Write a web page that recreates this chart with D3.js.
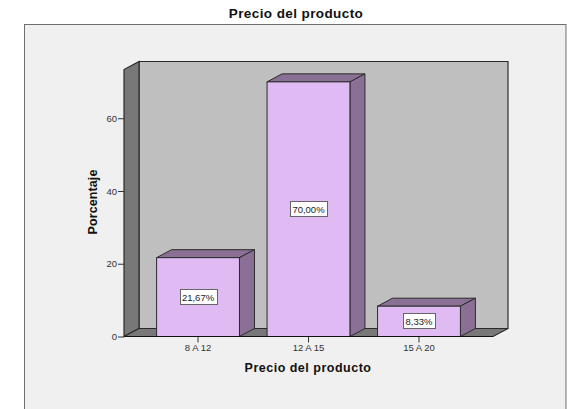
<!DOCTYPE html>
<html lang="en">
<head>
	<meta charset="utf-8"/>
	<title>Precio del producto</title>
	<script src="https://d3js.org/d3.v7.min.js" charset="utf-8"></script>
	<style>
		html, body { margin: 0; padding: 0; background: #fff; overflow: hidden; }
		svg { display: block; font-family: "Liberation Sans", Arial, sans-serif; }
		.axis .domain { display: none; }
		.axis text { font-size: 9.5px; fill: #333; }
		.axis line { stroke: #333; }
		.name { font-weight: bold; fill: #111; text-anchor: middle; }
	</style>
</head>
<body>
<div id="chart"></div>

<script>
	var categories = ["8 A 12", "12 A 15", "15 A 20"];
	var values = [21.67, 70, 8.33];
	var valueLabels = ["21,67%", "70,00%", "8,33%"];
	var yTicks = [0, 20, 40, 60];

	var width = 567,
		height = 409;

	// depth of the 3D box
	var dx = 15,
		dy = -8;

	var svg = d3.select("#chart").append("svg")
		.attr("width", width)
		.attr("height", height);

	// outer panel
	svg.append("rect")
		.attr("x", 24.5).attr("y", 24.5)
		.attr("width", 541.5).attr("height", 400)
		.attr("fill", "#f0f0f0")
		.attr("stroke", "#6e6e6e");

	var x = d3.scaleBand()
		.domain(categories)
		.range([124, 493])
		.paddingInner(0.25)
		.paddingOuter(0.295);

	var y = d3.scaleLinear()
		.domain([0, 73.4])
		.range([336.5, 69.5]);

	var x0 = x.range()[0], x1 = x.range()[1],
		y0 = y(0), yTop = y.range()[1];

	function poly(pts) { return "M" + pts.join("L") + "Z"; }

	var stroke = "#2b2b2b";

	// back wall
	svg.append("path")
		.attr("d", poly([[x0 + dx, y0 + dy], [x1 + dx, y0 + dy], [x1 + dx, yTop + dy], [x0 + dx, yTop + dy]]))
		.attr("fill", "#bfbfbf").attr("stroke", stroke).attr("stroke-width", 1.2);

	// left wall
	svg.append("path")
		.attr("d", poly([[x0, y0], [x0 + dx, y0 + dy], [x0 + dx, yTop + dy], [x0, yTop]]))
		.attr("fill", "#787878").attr("stroke", stroke).attr("stroke-width", 1.2);

	// floor
	svg.append("path")
		.attr("d", poly([[x0, y0], [x1, y0], [x1 + dx, y0 + dy], [x0 + dx, y0 + dy]]))
		.attr("fill", "#787878").attr("stroke", stroke).attr("stroke-width", 1.2);

	// bars
	var bars = svg.selectAll(".bar")
		.data(values)
		.enter().append("g")
		.attr("class", "bar");

	bars.append("path")
		.attr("d", function(d, i) {
			var l = x(categories[i]), r = l + x.bandwidth(), t = y(d);
			return poly([[l, t], [r, t], [r + dx, t + dy], [l + dx, t + dy]]);
		})
		.attr("fill", "#8b7095").attr("stroke", stroke);

	bars.append("path")
		.attr("d", function(d, i) {
			var r = x(categories[i]) + x.bandwidth(), t = y(d);
			return poly([[r, t], [r + dx, t + dy], [r + dx, y0 + dy], [r, y0]]);
		})
		.attr("fill", "#8b7095").attr("stroke", stroke);

	bars.append("rect")
		.attr("x", function(d, i) { return x(categories[i]); })
		.attr("y", function(d) { return y(d); })
		.attr("width", x.bandwidth())
		.attr("height", function(d) { return y0 - y(d); })
		.attr("fill", "#dfbaf3").attr("stroke", stroke);

	// value labels
	var labelW = [37, 37, 32];
	bars.append("rect")
		.attr("x", function(d, i) { return Math.round(x(categories[i]) + x.bandwidth() / 2 - labelW[i] / 2) + 0.5; })
		.attr("y", function(d) { return Math.round((y(d) + y0) / 2) - 7.5; })
		.attr("width", function(d, i) { return labelW[i]; })
		.attr("height", 15)
		.attr("fill", "#fff").attr("stroke", "#666");

	bars.append("text")
		.attr("x", function(d, i) { return x(categories[i]) + x.bandwidth() / 2; })
		.attr("y", function(d) { return Math.round((y(d) + y0) / 2) + 3.5; })
		.attr("text-anchor", "middle")
		.attr("font-size", 9.5)
		.attr("fill", "#222")
		.text(function(d, i) { return valueLabels[i]; });

	// axes
	svg.append("g")
		.attr("class", "axis")
		.attr("transform", "translate(" + x0 + ",0)")
		.call(d3.axisLeft(y).tickValues(yTicks).tickSize(6).tickPadding(1));

	svg.append("g")
		.attr("class", "axis")
		.attr("transform", "translate(0," + y0 + ")")
		.call(d3.axisBottom(x).tickSize(6).tickPadding(2));

	// front edge of the floor drawn over the bars
	svg.append("line")
		.attr("x1", x0).attr("x2", x1)
		.attr("y1", y0).attr("y2", y0)
		.attr("stroke", "#111").attr("stroke-width", 1.2);

	// titles
	svg.append("text").attr("class", "name")
		.attr("x", 296).attr("y", 18)
		.attr("font-size", 13.5).attr("letter-spacing", 0.4)
		.text("Precio del producto");

	svg.append("text").attr("class", "name")
		.attr("x", 308).attr("y", 372)
		.attr("font-size", 12.5).attr("letter-spacing", 0.5)
		.text("Precio del producto");

	svg.append("text").attr("class", "name")
		.attr("transform", "translate(97,202) rotate(-90)")
		.attr("font-size", 12.5).attr("letter-spacing", 0.1)
		.text("Porcentaje");
</script>
</body>
</html>
